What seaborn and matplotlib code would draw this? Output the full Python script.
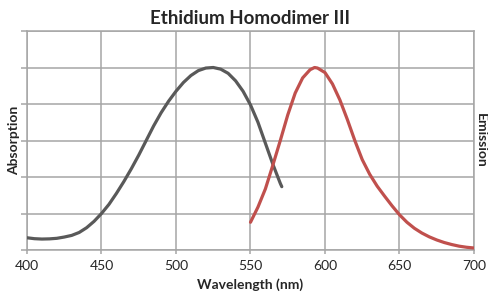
import matplotlib
matplotlib.use("Agg")
import matplotlib.pyplot as plt
import seaborn as sns
import pandas as pd

abs_wl = [400, 405, 410, 415, 420, 425, 430, 435, 440, 445, 450, 455, 460, 465,
          470, 475, 480, 485, 490, 495, 500, 505, 510, 515, 520, 525, 530, 535,
          540, 545, 550, 555, 560, 565, 570, 571]
abs_val = [0.067, 0.062, 0.060, 0.061, 0.064, 0.071, 0.080, 0.096, 0.122, 0.157,
           0.200, 0.250, 0.310, 0.375, 0.445, 0.520, 0.600, 0.680, 0.752, 0.815,
           0.870, 0.918, 0.956, 0.983, 0.997, 1.000, 0.991, 0.968, 0.927, 0.870,
           0.795, 0.700, 0.585, 0.470, 0.365, 0.347]

em_wl = [550, 555, 560, 565, 570, 575, 580, 585, 590, 593, 595, 600, 605, 610,
         615, 620, 625, 630, 635, 640, 645, 650, 655, 660, 665, 670, 675, 680,
         685, 690, 695, 700]
em_val = [0.152, 0.235, 0.335, 0.465, 0.600, 0.740, 0.860, 0.943, 0.988, 1.000,
          0.997, 0.972, 0.910, 0.822, 0.715, 0.600, 0.495, 0.415, 0.350, 0.295,
          0.242, 0.193, 0.152, 0.119, 0.093, 0.072, 0.055, 0.041, 0.030, 0.021,
          0.015, 0.011]

x_ticks = [400, 450, 500, 550, 600, 650, 700]
y_ticks = [0, 0.2, 0.4, 0.6, 0.8, 1.0, 1.2]

sns.set_style("white")
plt.rcParams['font.family'] = ['Lato', 'DejaVu Sans']

fig = plt.figure(figsize=(4.89, 2.97), dpi=100)
ax = fig.add_axes([27/489, 1-250/297, (474-27)/489, (250-31)/297])

grid_c = "#A6A6A6"
for yv in y_ticks:
    ax.axhline(yv, color=grid_c, lw=1.1, zorder=0)
for xv in x_ticks:
    ax.axvline(xv, color=grid_c, lw=1.1, zorder=0)

df_a = pd.DataFrame({"wl": abs_wl, "v": abs_val})
df_e = pd.DataFrame({"wl": em_wl, "v": em_val})
sns.lineplot(data=df_a, x="wl", y="v", ax=ax, color="#595959", lw=2.3, zorder=3)
sns.lineplot(data=df_e, x="wl", y="v", ax=ax, color="#C0504D", lw=2.3, zorder=3)

ax.set_xlim(400, 700)
ax.set_ylim(0, 1.2)
ax.set_xticks(x_ticks)
ax.set_yticks(y_ticks)
ax.set_yticklabels([])
ax.tick_params(axis='y', direction='out', length=4, color=grid_c, width=1.1, left=True)
ax.tick_params(axis='x', direction='out', length=3, color=grid_c, width=1.1, bottom=True,
               labelsize=10, pad=4)
for s in ax.spines.values():
    s.set_color(grid_c)
    s.set_linewidth(1.1)

ax.set_xlabel("Wavelength (nm)", fontsize=10, fontweight='bold', labelpad=5)
ax.set_ylabel("")
fig.text(14/489, 1-140/297, "Absorption", rotation=90, ha='center', va='center',
         fontsize=10, fontweight='bold')
fig.text(481/489, 1-140/297, "Emission", rotation=270, ha='center', va='center',
         fontsize=10, fontweight='bold')
ax.set_title("Ethidium Homodimer III", fontsize=13.5, fontweight='bold', pad=5)

fig.savefig("out.png", dpi=100)
